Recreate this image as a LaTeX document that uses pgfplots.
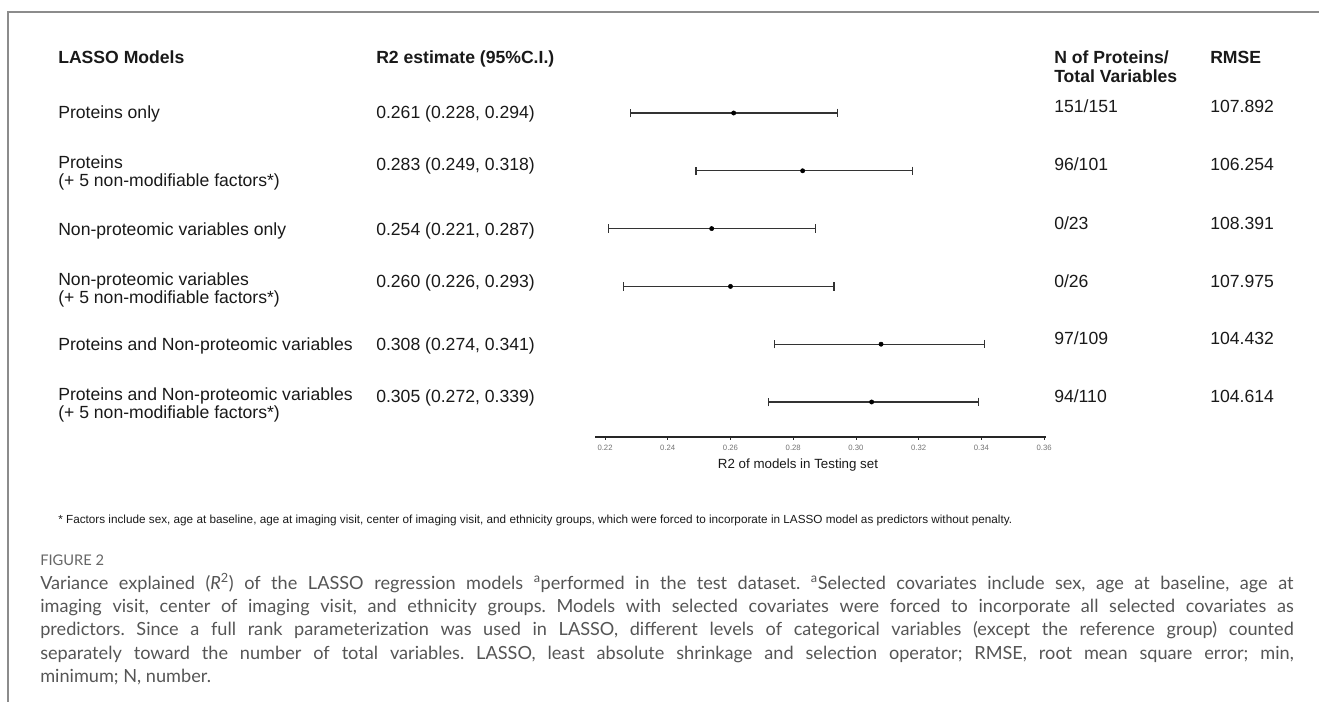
\documentclass[border=0pt]{standalone}
\usepackage{fontspec}
\setmainfont{Liberation Sans}
\newfontfamily\capfont{Lato}
\usepackage{pgfplots}
\pgfplotsset{compat=1.18}
\definecolor{capgray}{HTML}{555555}
\definecolor{figgray}{HTML}{666666}
\definecolor{framegray}{HTML}{8C8C8C}
\definecolor{bargray}{HTML}{333333}
\begin{document}
\begin{tikzpicture}
\path[use as bounding box] (0,0) rectangle (989.25pt,-526.5pt);
\begin{axis}[
  at={(446.25pt,-327.75pt)}, anchor=south west,
  scale only axis, width=338.25pt, height=297.75pt,
  xmin=0.2168, xmax=0.3606, ymin=-0.263, ymax=6.606, y dir=reverse,
  axis x line=bottom, axis y line=none,
  axis line style={-, line width=0.9pt, black!85},
  xtick={0.22,0.24,0.26,0.28,0.30,0.32,0.34,0.36},
  xticklabels={0.22,0.24,0.26,0.28,0.30,0.32,0.34,0.36},
  xticklabel style={font=\fontsize{5.8}{6}\selectfont, text=black!55},
  tick align=outside, major tick length=2.2pt,
  tick style={black!85, line width=0.6pt},
  clip=false,
]
\addplot[only marks, mark=*, mark size=1.6pt, black,
  error bars/.cd, x dir=both, x explicit, error mark=|,
  error bar style={line width=0.8pt, bargray},
  error mark options={bargray, line width=0.8pt, mark size=3.2pt}]
coordinates {
  (0.261,1) += (0.033,0) -= (0.033,0)
  (0.283,2) += (0.035,0) -= (0.034,0)
  (0.254,3) += (0.033,0) -= (0.033,0)
  (0.260,4) += (0.033,0) -= (0.034,0)
  (0.308,5) += (0.033,0) -= (0.034,0)
  (0.305,6) += (0.034,0) -= (0.033,0)
};
\end{axis}
\begin{scope}[x=0.75pt, y=-0.75pt]
\draw[framegray, line width=0.9pt] (1319,12) -- (8,12) -- (8,702);
\tikzset{t/.style={anchor=base west, inner sep=0, font=\fontsize{13.2}{14}\selectfont, text=black!90},
         h/.style={t, font=\fontsize{13.2}{14}\selectfont\bfseries}}
% header
\node[h] at (58,64) {LASSO Models};
\node[h] at (376,64) {R2 estimate (95\%C.I.)};
\node[h] at (1054,64) {N of Proteins/};
\node[h] at (1054,83) {Total Variables};
\node[h] at (1210,64) {RMSE};
% row labels
\node[t] at (58,119) {Proteins only};
\node[t] at (58,169) {Proteins};
\node[t] at (58,187) {(+ 5 non-modifiable factors*)};
\node[t] at (58,235) {Non-proteomic variables only};
\node[t] at (58,285) {Non-proteomic variables};
\node[t] at (58,303) {(+ 5 non-modifiable factors*)};
\node[t] at (58,350) {Proteins and Non-proteomic variables};
\node[t] at (58,400) {Proteins and Non-proteomic variables};
\node[t] at (58,418) {(+ 5 non-modifiable factors*)};
% R2 text
\node[t] at (376,119) {0.261 (0.228, 0.294)};
\node[t] at (376,171) {0.283 (0.249, 0.318)};
\node[t] at (376,235) {0.254 (0.221, 0.287)};
\node[t] at (376,287) {0.260 (0.226, 0.293)};
\node[t] at (376,350) {0.308 (0.274, 0.341)};
\node[t] at (376,402) {0.305 (0.272, 0.339)};
% N
\node[t] at (1054,113) {151/151};
\node[t] at (1054,171) {96/101};
\node[t] at (1054,229) {0/23};
\node[t] at (1054,287) {0/26};
\node[t] at (1054,344) {97/109};
\node[t] at (1054,402) {94/110};
% RMSE
\node[t] at (1210,113) {107.892};
\node[t] at (1210,171) {106.254};
\node[t] at (1210,229) {108.391};
\node[t] at (1210,287) {107.975};
\node[t] at (1210,344) {104.432};
\node[t] at (1210,402) {104.614};
% axis label
\node[anchor=base, inner sep=0, font=\fontsize{10}{12}\selectfont, text=black!90] at (798,468) {R2 of models in Testing set};
% footnote
\node[anchor=base west, inner sep=0, font=\fontsize{8.8}{10}\selectfont, text=black!90] at (58,523) {* Factors include sex, age at baseline, age at imaging visit, center of imaging visit, and ethnicity groups, which were forced to incorporate in LASSO model as predictors without penalty.};
% caption
\node[anchor=base west, inner sep=0, font=\capfont\fontsize{11}{12}\selectfont, text=figgray] at (40,565) {FIGURE 2};
\node[anchor=base west, inner sep=0, text width=940pt, align=justify, font=\capfont\fontsize{13.6}{17.6}\selectfont, text=capgray] at (40,589) {\frenchspacing\hyphenpenalty=10000 Variance explained (\textit{R}\textsuperscript{2}) of the LASSO regression models \textsuperscript{a}performed in the test dataset. \textsuperscript{a}Selected covariates include sex, age at baseline, age at\linebreak imaging visit, center of imaging visit, and ethnicity groups. Models with selected covariates were forced to incorporate all selected covariates as\linebreak predictors. Since a full rank parameterization was used in LASSO, different levels of categorical variables (except the reference group) counted\linebreak separately toward the number of total variables. LASSO, least absolute shrinkage and selection operator; RMSE, root mean square error; min,\linebreak minimum; N, number.};
\end{scope}
\end{tikzpicture}
\end{document}
